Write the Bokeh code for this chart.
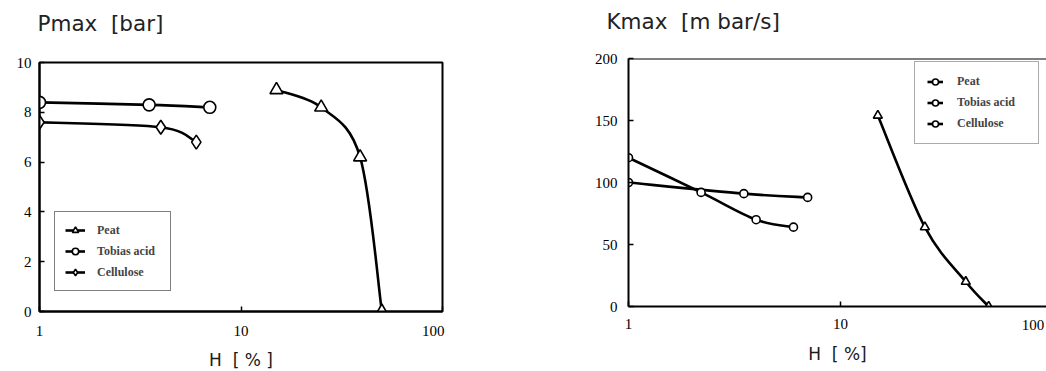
import numpy as np
from bokeh.plotting import figure
from bokeh.layouts import row
from bokeh.models import (Legend, LegendItem, Span, FixedTicker, LogAxis,
                          LogScale, PrintfTickFormatter, Range1d)
from bokeh.embed import file_html
from bokeh.resources import INLINE

# ---- data -------------------------------------------------------------
H_PEAT = [15, 25, 39, 50]
H_TOBIAS = [1, 3.5, 7]
H_CELL_P = [1, 4, 6]
H_CELL_K = [1, 2.2, 4, 6]

PMAX_PEAT = [8.9, 8.2, 6.2, 0.0]
PMAX_TOBIAS = [8.4, 8.3, 8.2]
PMAX_CELL = [7.6, 7.4, 6.8]

KMAX_PEAT = [154, 64, 20, 0]
KMAX_TOBIAS = [100, 91, 88]
KMAX_CELL = [120, 92, 70, 64]

H_TICKS = [1, 10, 100]
P_TICKS = [0, 2, 4, 6, 8, 10]
K_TICKS = [0, 50, 100, 150, 200]

SERIES = ["Peat", "Tobias acid", "Cellulose"]

TICK_FONT = "Liberation Serif"
TITLE_FONT = "DejaVu Sans"
NBSP = "\u00a0"


def smooth_curve(p, xs, ys, width=2.6):
    """Draw a smooth curve through the points as cubic Bezier segments
    (Catmull-Rom tangents, computed in log-x space)."""
    u = np.log10(np.asarray(xs, dtype=float))
    v = np.asarray(ys, dtype=float)
    n = len(u)
    d = dict(x0=[], y0=[], x1=[], y1=[], cx0=[], cy0=[], cx1=[], cy1=[])
    for i in range(n - 1):
        i0, i3 = max(i - 1, 0), min(i + 2, n - 1)
        c1u = u[i] + (u[i + 1] - u[i0]) / 6.0
        c1v = v[i] + (v[i + 1] - v[i0]) / 6.0
        c2u = u[i + 1] - (u[i3] - u[i]) / 6.0
        c2v = v[i + 1] - (v[i3] - v[i]) / 6.0
        d["x0"].append(10 ** u[i]); d["y0"].append(v[i])
        d["x1"].append(10 ** u[i + 1]); d["y1"].append(v[i + 1])
        d["cx0"].append(10 ** c1u); d["cy0"].append(c1v)
        d["cx1"].append(10 ** c2u); d["cy1"].append(c2v)
    return p.bezier(source=d, x0="x0", y0="y0", x1="x1", y1="y1",
                    cx0="cx0", cy0="cy0", cx1="cx1", cy1="cy1",
                    line_color="black", line_width=width)


def points(p, xs, ys, marker, size):
    return p.scatter(xs, ys, marker=marker, size=size, fill_color="white",
                     line_color="black", line_width=1.6)


def style_tick_labels(ax):
    ax.major_label_text_font = TICK_FONT
    ax.major_label_text_font_size = "15px"
    ax.major_label_text_color = "black"


def style_axes(p, yticks, ystand, xstand, lstand):
    for ax in (p.xaxis[0], p.yaxis[0]):
        ax.axis_line_width = 2
        ax.axis_line_color = "black"
        ax.major_tick_in = 5
        ax.major_tick_out = 0
        ax.major_tick_line_width = 1.5
        ax.minor_tick_line_color = None
        style_tick_labels(ax)
    p.xaxis.ticker = FixedTicker(ticks=H_TICKS)
    p.xaxis.formatter = PrintfTickFormatter(format="%d")
    p.xaxis.major_label_standoff = xstand
    p.yaxis.ticker = FixedTicker(ticks=yticks)
    p.yaxis.major_label_standoff = ystand
    p.xaxis.axis_label_text_font = TITLE_FONT
    p.xaxis.axis_label_text_font_size = "17px"
    p.xaxis.axis_label_text_font_style = "normal"
    p.xaxis.axis_label_text_color = "#1a1a1a"
    p.xaxis.axis_label_standoff = lstand
    p.grid.visible = False


def style_title(p, offset, standoff):
    # a trailing empty line gives the title block extra height, lifting
    # the visible line higher in the top margin
    p.title.text = p.title.text + "\n"
    p.title.align = "left"
    p.title.vertical_align = "top"
    p.title.offset = offset
    p.title.standoff = standoff
    p.title.text_line_height = 0.9
    p.title.text_font = TITLE_FONT
    p.title.text_font_size = "21.5px"
    p.title.text_font_style = "normal"
    p.title.text_color = "#222222"


def make_legend(items, location, **kw):
    return Legend(items=[LegendItem(label=lab, renderers=rs) for lab, rs in items],
                  location=location, margin=0,
                  label_text_font=TICK_FONT, label_text_font_size="12px",
                  label_text_font_style="bold",
                  background_fill_color="white", background_fill_alpha=1, **kw)


# ---- left panel: maximum explosion pressure ---------------------------
pl = figure(x_axis_type="log", x_range=Range1d(1, 100), y_range=Range1d(0, 10),
            title="Pmax" + NBSP + " [bar]",
            frame_width=403, frame_height=249,
            min_border_left=39, min_border_right=78,
            min_border_top=62, min_border_bottom=60,
            frame_align=False,
            output_backend="svg", toolbar_location=None,
            outline_line_color="black", outline_line_width=2,
            background_fill_color="white", border_fill_color="white")
style_axes(pl, P_TICKS, 8, 11, 8)
# the printed "100" sits a little left of its tick
pl.xaxis.major_label_overrides = {100: "100" + NBSP * 5}
style_title(pl, -2, 4)
pl.xaxis.axis_label = "H" + NBSP + " [ % ]"

cl_tob = smooth_curve(pl, H_TOBIAS, PMAX_TOBIAS)
cl_cel = smooth_curve(pl, H_CELL_P, PMAX_CELL)
cl_peat = smooth_curve(pl, H_PEAT, PMAX_PEAT)
ml_tob = points(pl, H_TOBIAS, PMAX_TOBIAS, "circle", 12)
ml_cel = points(pl, H_CELL_P, PMAX_CELL, "diamond", 14)
ml_peat = points(pl, H_PEAT, PMAX_PEAT, "triangle", 13)

pl.add_layout(make_legend(
    [(SERIES[0], [cl_peat, ml_peat]),
     (SERIES[1], [cl_tob, ml_tob]),
     (SERIES[2], [cl_cel, ml_cel])],
    (15, 20), padding=10, spacing=5, glyph_width=20, glyph_height=16,
    label_standoff=12, label_width=63, label_height=16,
    border_line_color="black", border_line_width=1.5))

# ---- right panel: maximum rate of pressure rise -----------------------
X_END_R = 10 ** (418 / 212)          # frame ends at the page edge, short of 100
pr = figure(x_axis_type="log", x_range=Range1d(1, X_END_R),
            y_range=Range1d(0, 200),
            title="Kmax" + NBSP + " [m bar/s]",
            frame_width=418, frame_height=248,
            min_border_left=108, min_border_right=0,
            min_border_top=58, min_border_bottom=65,
            frame_align=False,
            output_backend="svg", toolbar_location=None,
            outline_line_color=None,
            background_fill_color="white", border_fill_color="white")
style_axes(pr, K_TICKS, 11, 12, 12)
style_title(pr, -22, 0)
pr.xaxis.axis_label = "H" + NBSP + " [ %]"
pr.add_layout(Span(location=200, dimension="width", line_color="black",
                   line_width=2))

# label-only axis carrying the "100" of the H axis, whose tick lies just
# beyond the page edge; its range is shifted so the text starts inside
shift = 10 ** (15 / 212)
pr.extra_x_ranges = {"h100": Range1d(shift, X_END_R * shift)}
pr.extra_x_scales = {"h100": LogScale()}
ax100 = LogAxis(x_range_name="h100", ticker=FixedTicker(ticks=[100]),
                formatter=PrintfTickFormatter(format="%d"),
                axis_line_color=None, major_tick_line_color=None,
                minor_tick_line_color=None, major_label_standoff=-53)
style_tick_labels(ax100)
pr.add_layout(ax100, "below")

cr_tob = smooth_curve(pr, H_TOBIAS, KMAX_TOBIAS)
cr_cel = smooth_curve(pr, H_CELL_K, KMAX_CELL)
cr_peat = smooth_curve(pr, H_PEAT, KMAX_PEAT)
mr_tob = points(pr, H_TOBIAS, KMAX_TOBIAS, "circle", 8)
mr_cel = points(pr, H_CELL_K, KMAX_CELL, "circle", 8)
mr_peat = points(pr, H_PEAT, KMAX_PEAT, "triangle", 9)

pr.add_layout(make_legend(
    [(SERIES[0], [cr_peat, mr_tob]),
     (SERIES[1], [cr_tob, mr_tob]),
     (SERIES[2], [cr_cel, mr_cel])],
    (286, 162), padding=12, spacing=6, glyph_width=16, glyph_height=15,
    label_standoff=14, label_width=69, label_height=15,
    border_line_color="#555555", border_line_width=1.5))

layout = row(pl, pr, spacing=0)
open("out.html", "w").write(file_html(layout, INLINE))
